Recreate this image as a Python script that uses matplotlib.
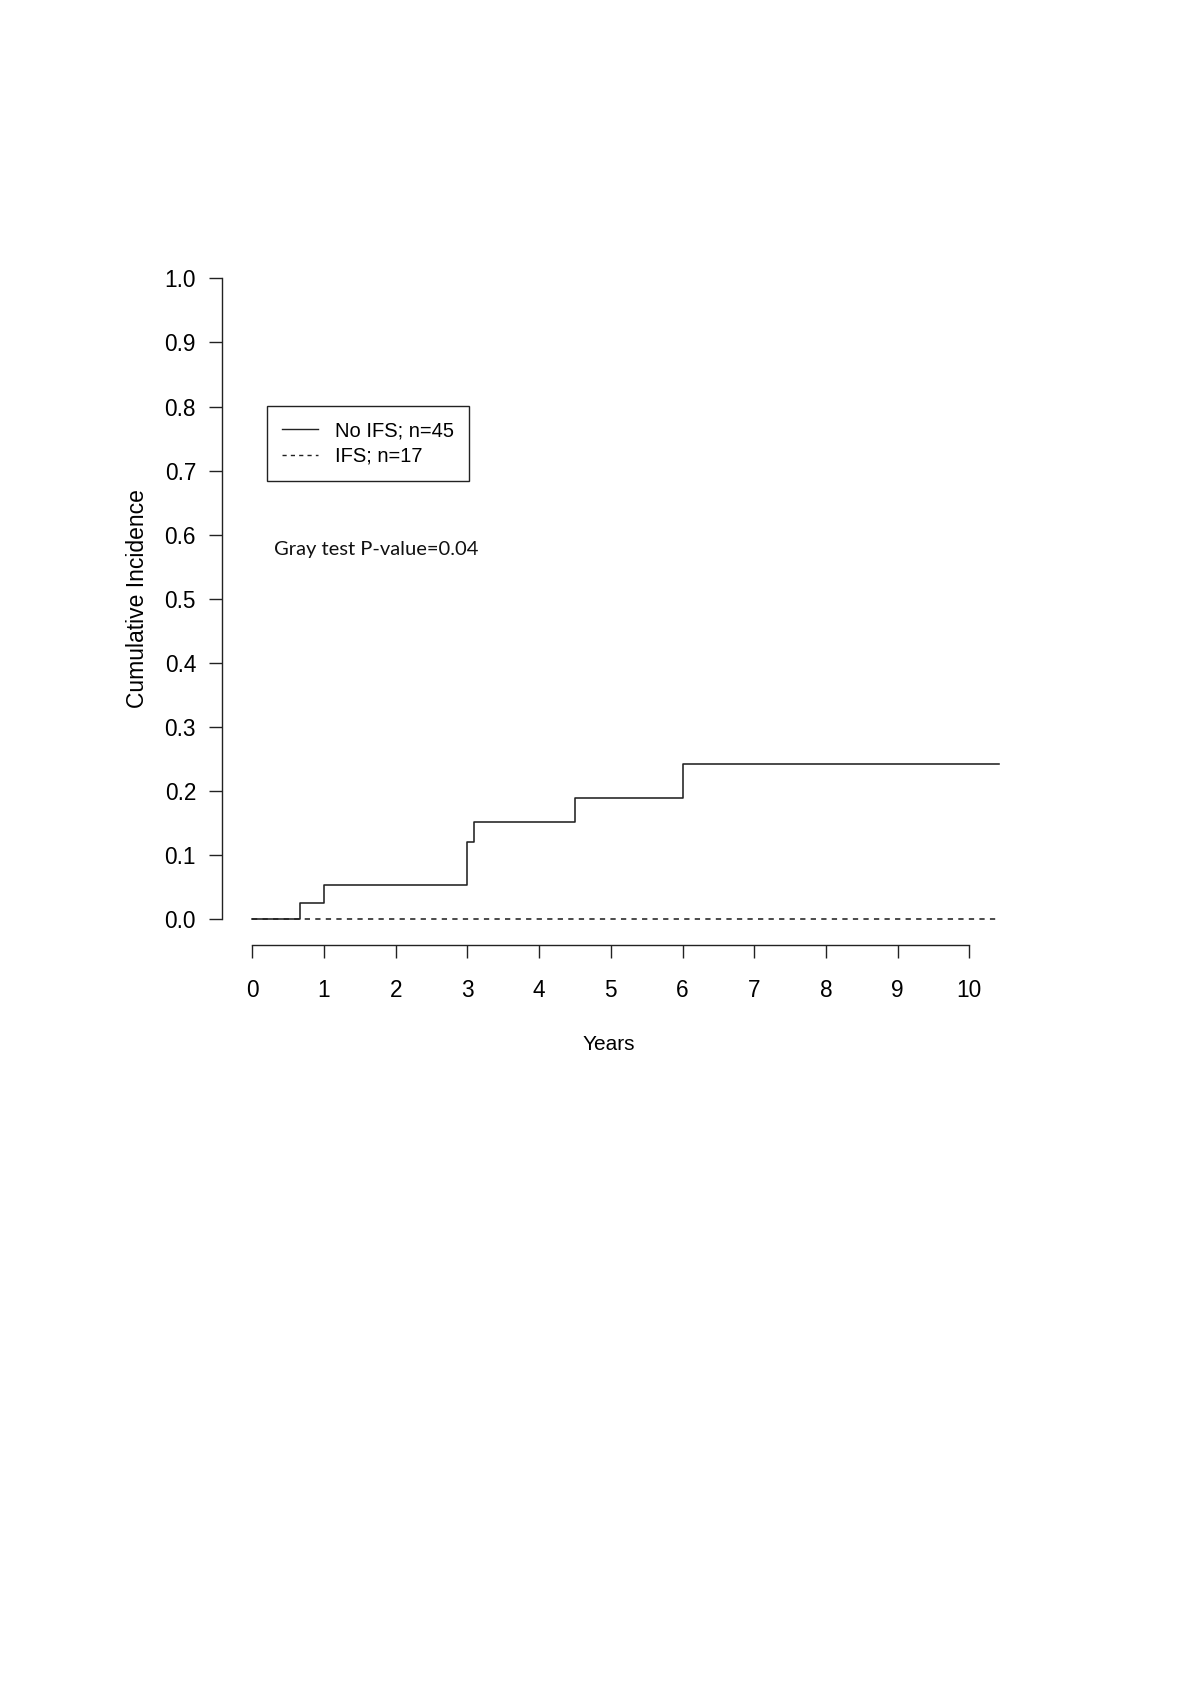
"""Cumulative incidence by IFS group (Gray test)."""
import matplotlib
matplotlib.use('Agg')
import matplotlib.pyplot as plt
from matplotlib.lines import Line2D

# Step data
time_no_ifs = [0.0, 0.665, 1.0, 3.0, 3.09, 4.5, 6.0, 10.41]
cif_no_ifs = [0.0, 0.026, 0.053, 0.120, 0.152, 0.189, 0.243, 0.243]
time_ifs = [0.0, 10.41]
cif_ifs = [0.0, 0.0]

labels = ['No IFS; n=45', 'IFS; n=17']
x_ticks = list(range(0, 11))
y_ticks = [0.0, 0.1, 0.2, 0.3, 0.4, 0.5, 0.6, 0.7, 0.8, 0.9, 1.0]
annotation = 'Gray test P-value=0.04'

plt.rcParams['font.family'] = ['Liberation Sans', 'DejaVu Sans']

fig = plt.figure(figsize=(12, 16.97), dpi=100)
ax = fig.add_axes([0.1854, 0.4432, 0.672, 0.4079])

line_color = '#222222'
ax.step(time_no_ifs, cif_no_ifs, where='post', color=line_color, linewidth=1.15)
ax.step(time_ifs, cif_ifs, where='post', color=line_color, linewidth=1.15,
        linestyle=(0, (3.3, 3.3)))

ax.set_xlim(-0.416, 10.83)
ax.set_ylim(-0.04, 1.04)

for side in ['top', 'right']:
    ax.spines[side].set_visible(False)
ax.spines['left'].set_bounds(0, 1)
ax.spines['bottom'].set_bounds(0, 10)
for side in ['left', 'bottom']:
    ax.spines[side].set_linewidth(1.0)
    ax.spines[side].set_color(line_color)

ax.set_xticks(x_ticks)
ax.set_xticklabels([str(t) for t in x_ticks])
ax.set_yticks(y_ticks)
ax.set_yticklabels([f'{t:.1f}' for t in y_ticks])
ax.tick_params(axis='both', direction='out', length=9.5, width=1.0,
               color=line_color, labelsize=16.3)
ax.tick_params(axis='y', pad=9.5)
ax.tick_params(axis='x', pad=15)

ax.set_xlabel('Years', fontsize=15, labelpad=24, x=0.479)
ax.set_ylabel('Cumulative Incidence', fontsize=16.5, labelpad=11)

handles = [Line2D([], [], color=line_color, linewidth=1.0),
           Line2D([], [], color=line_color, linewidth=1.0, linestyle=(0, (3, 3)))]
leg = ax.legend(handles, labels, loc='upper left', bbox_to_anchor=(0.0548, 0.779),
                borderaxespad=0, fontsize=14.5, handlelength=1.75,
                handletextpad=0.85, borderpad=0.78, labelspacing=0.31,
                fancybox=False, framealpha=1, edgecolor=line_color)
leg.get_frame().set_linewidth(1.0)

ax.text(0.0642, 0.5636, annotation, transform=ax.transAxes, fontsize=14.5,
        family=['Lato', 'DejaVu Sans'], color='#111111', va='baseline', ha='left')

fig.savefig('out.png', dpi=100)
